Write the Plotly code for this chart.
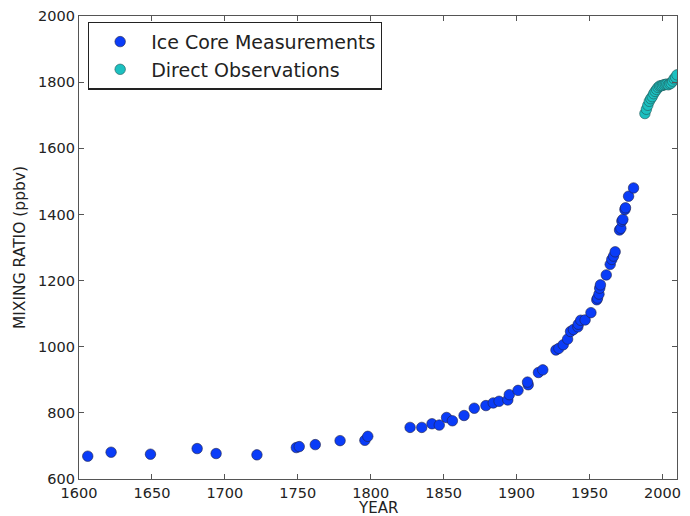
import plotly.graph_objects as go

# Methane mixing ratio: ice core record (years, ppbv)
ice_years = [1606, 1622, 1649, 1681, 1694, 1722, 1749, 1751, 1762, 1779,
             1796, 1798, 1827, 1835, 1842, 1847, 1852, 1856, 1864, 1871,
             1879, 1884, 1888, 1894, 1895, 1901, 1908, 1907.5, 1915, 1918,
             1927, 1929, 1932, 1935, 1937, 1939, 1942, 1942.3, 1944, 1947,
             1951, 1955, 1955.5, 1956.5, 1957, 1957.5, 1961.5, 1964.2, 1965.3, 1966.5,
             1967.6, 1970.6, 1971.5, 1972.2, 1972.9, 1974.3, 1974.7, 1976.8, 1980.2]
ice_ppbv = [669, 681, 675, 692, 677, 673, 695, 698, 704, 716,
            717, 729, 756, 756, 767, 763, 786, 776, 792, 814,
            822, 830, 835, 839, 855, 868, 885, 893, 922, 930,
            990, 995, 1006, 1023, 1046, 1052, 1060, 1068, 1080, 1081,
            1103, 1142, 1147, 1159, 1177, 1187, 1217, 1249, 1264, 1274,
            1287, 1353, 1358, 1380, 1385, 1415, 1420, 1455, 1480]

# Direct atmospheric observations
obs_years = list(range(1988, 2011))
obs_ppbv = [1705, 1718, 1730, 1742, 1750, 1756, 1765, 1772, 1778, 1784,
            1788, 1789, 1790, 1792, 1793, 1794, 1792, 1795, 1797, 1803,
            1810, 1815, 1822]

x_ticks = [1600, 1650, 1700, 1750, 1800, 1850, 1900, 1950, 2000]
y_ticks = [600, 800, 1000, 1200, 1400, 1600, 1800, 2000]

FONT = "DejaVu Sans"
TEXT = "#222222"
LINE = "#555555"

fig = go.Figure()
fig.add_trace(go.Scatter(
    x=ice_years, y=ice_ppbv, mode="markers", name="Ice Core Measurements",
    marker=dict(size=10.5, color="#0a3cf8", line=dict(color="#222244", width=0.6)),
))
fig.add_trace(go.Scatter(
    x=obs_years, y=obs_ppbv, mode="markers", name="Direct Observations",
    marker=dict(size=10.5, color="#1cc0c0", line=dict(color="#225555", width=0.6)),
))

axis_common = dict(
    showline=True, linecolor=LINE, linewidth=1.3, mirror="ticks",
    ticks="inside", ticklen=5, tickwidth=1, tickcolor=LINE,
    showgrid=False, zeroline=False,
    tickfont=dict(family=FONT, size=14.5, color=TEXT),
    automargin=False,
)

fig.update_layout(
    width=690, height=516,
    margin=dict(l=79, r=13, t=16, b=37),
    paper_bgcolor="white", plot_bgcolor="white",
    font=dict(family=FONT, color=TEXT),
    xaxis=dict(range=[1600, 2010], tickvals=x_ticks, **axis_common),
    yaxis=dict(range=[600, 2000], tickvals=y_ticks,
               title=dict(text="MIXING RATIO (ppbv)", font=dict(family=FONT, size=15.5, color=TEXT), standoff=8),
               **axis_common),
    legend=dict(
        x=0.015, y=0.988, xanchor="left", yanchor="top",
        bgcolor="white", bordercolor="#222222", borderwidth=1.2,
        font=dict(family=FONT, size=19, color=TEXT),
        itemwidth=52, tracegroupgap=0,
    ),
    showlegend=True,
)

# x-axis title placed just under the tick labels
fig.add_annotation(
    text="YEAR", xref="paper", yref="paper", x=0.5, y=0,
    xanchor="center", yanchor="middle", yshift=-29, showarrow=False,
    font=dict(family=FONT, size=15, color=TEXT),
)

fig.write_html("out.html")
